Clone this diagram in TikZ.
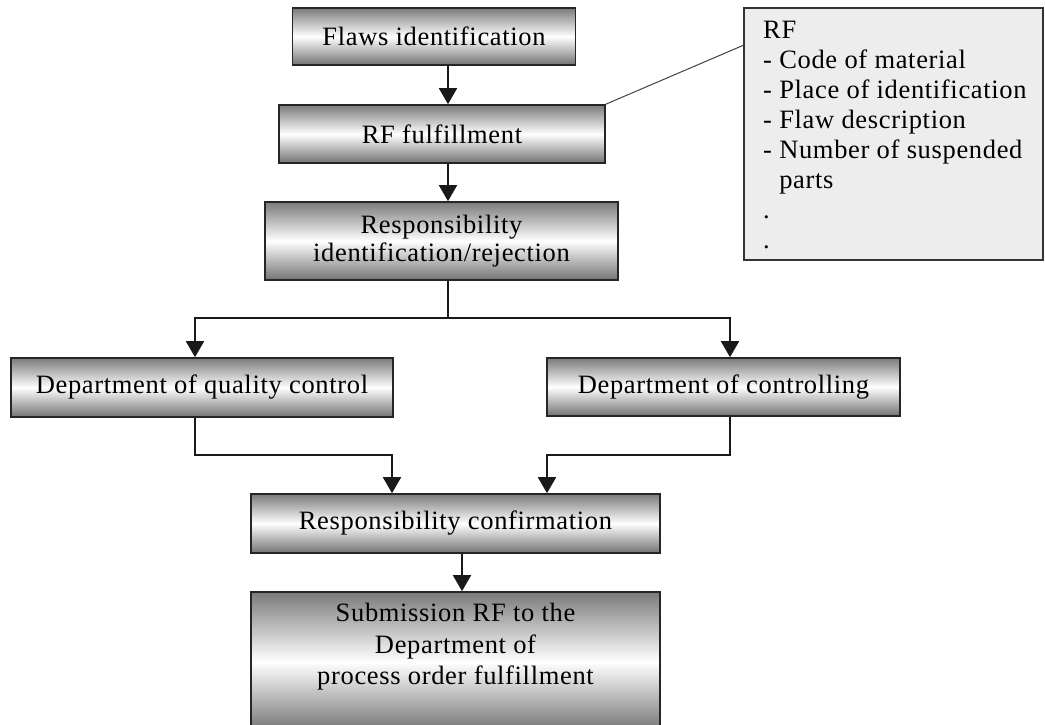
\documentclass[tikz,border=0pt]{standalone}
\usepackage{fontspec}
\setmainfont{Liberation Serif}[LetterSpace=2.5]
\usetikzlibrary{arrows.meta,calc}
\begin{document}
\begin{tikzpicture}[x=1pt,y=-1pt,
  box/.style={draw=black!85, line width=1.6pt, rectangle, inner sep=0pt,
    top color=black!52, bottom color=black!55, middle color=white,
    font=\fontsize{26.5}{31}\selectfont, align=center},
  notebox/.style={draw=black!80, line width=1.4pt, fill=black!7, inner sep=0pt},
  conn/.style={line width=1.8pt, draw=black!90},
  arr/.style={conn, -{Triangle[width=18pt,length=16pt]}}]
\useasboundingbox (0,0) rectangle (1045,725);
% boxes
\node[box, minimum width=283pt, minimum height=57pt] (flaws) at (434,36.5) {Flaws identification};
\node[box, minimum width=326pt, minimum height=58pt] (rf) at (442,134) {RF fulfillment};
\node[box, minimum width=353pt, minimum height=78pt] (resp) at (441.5,241) {Responsibility\\[-3pt]identification/rejection};
\node[box, minimum width=382pt, minimum height=59pt] (dqc) at (202,387.5) {Department of quality control};
\node[box, minimum width=353pt, minimum height=58pt] (dc) at (723.5,387) {Department of controlling};
\node[box, minimum width=409pt, minimum height=59pt] (conf) at (455.5,523.5) {Responsibility confirmation};
\node[box, minimum width=409pt, minimum height=140pt] (sub) at (455.5,662) {};
\node[font=\fontsize{26.5}{31.5}\selectfont, align=center, anchor=center] (subtxt) at (455.5,647) {Submission RF to the\\Department of\\process order fulfillment};
% note
\node[notebox, minimum width=299pt, minimum height=252pt] (note) at (893.5,134) {};
\node[font=\fontsize{26.5}{30}\selectfont, align=left, anchor=north west, inner sep=0pt] (notetxt) at (763,21)
 {RF\\- Code of material\\- Place of identification\\- Flaw description\\- Number of suspended\\\hphantom{- }parts\\.\\.};
\coordinate (nl) at (744,45);
\draw[line width=1pt, black!75] (rf.north east) -- (nl);
% connectors
\coordinate (ax) at (448,0);
\draw[arr] (flaws.south -| ax) -- (rf.north -| ax);
\draw[arr] (rf.south -| ax) -- (resp.north -| ax);
\coordinate (split) at (448,318);
\coordinate (lx) at (195,0);
\coordinate (rx) at (730,0);
\draw[conn] (resp.south -| ax) -- (split);
\draw[arr] (split) -| (dqc.north -| lx);
\draw[arr] (split) -| (dc.north -| rx);
\coordinate (jl) at (392,455);
\coordinate (jr) at (547,455);
\draw[arr] (dqc.south -| lx) |- (jl) -- (conf.north -| jl);
\draw[arr] (dc.south -| rx) |- (jr) -- (conf.north -| jr);
\coordinate (bx) at (462,0);
\draw[arr] (conf.south -| bx) -- (sub.north -| bx);
\end{tikzpicture}
\end{document}
